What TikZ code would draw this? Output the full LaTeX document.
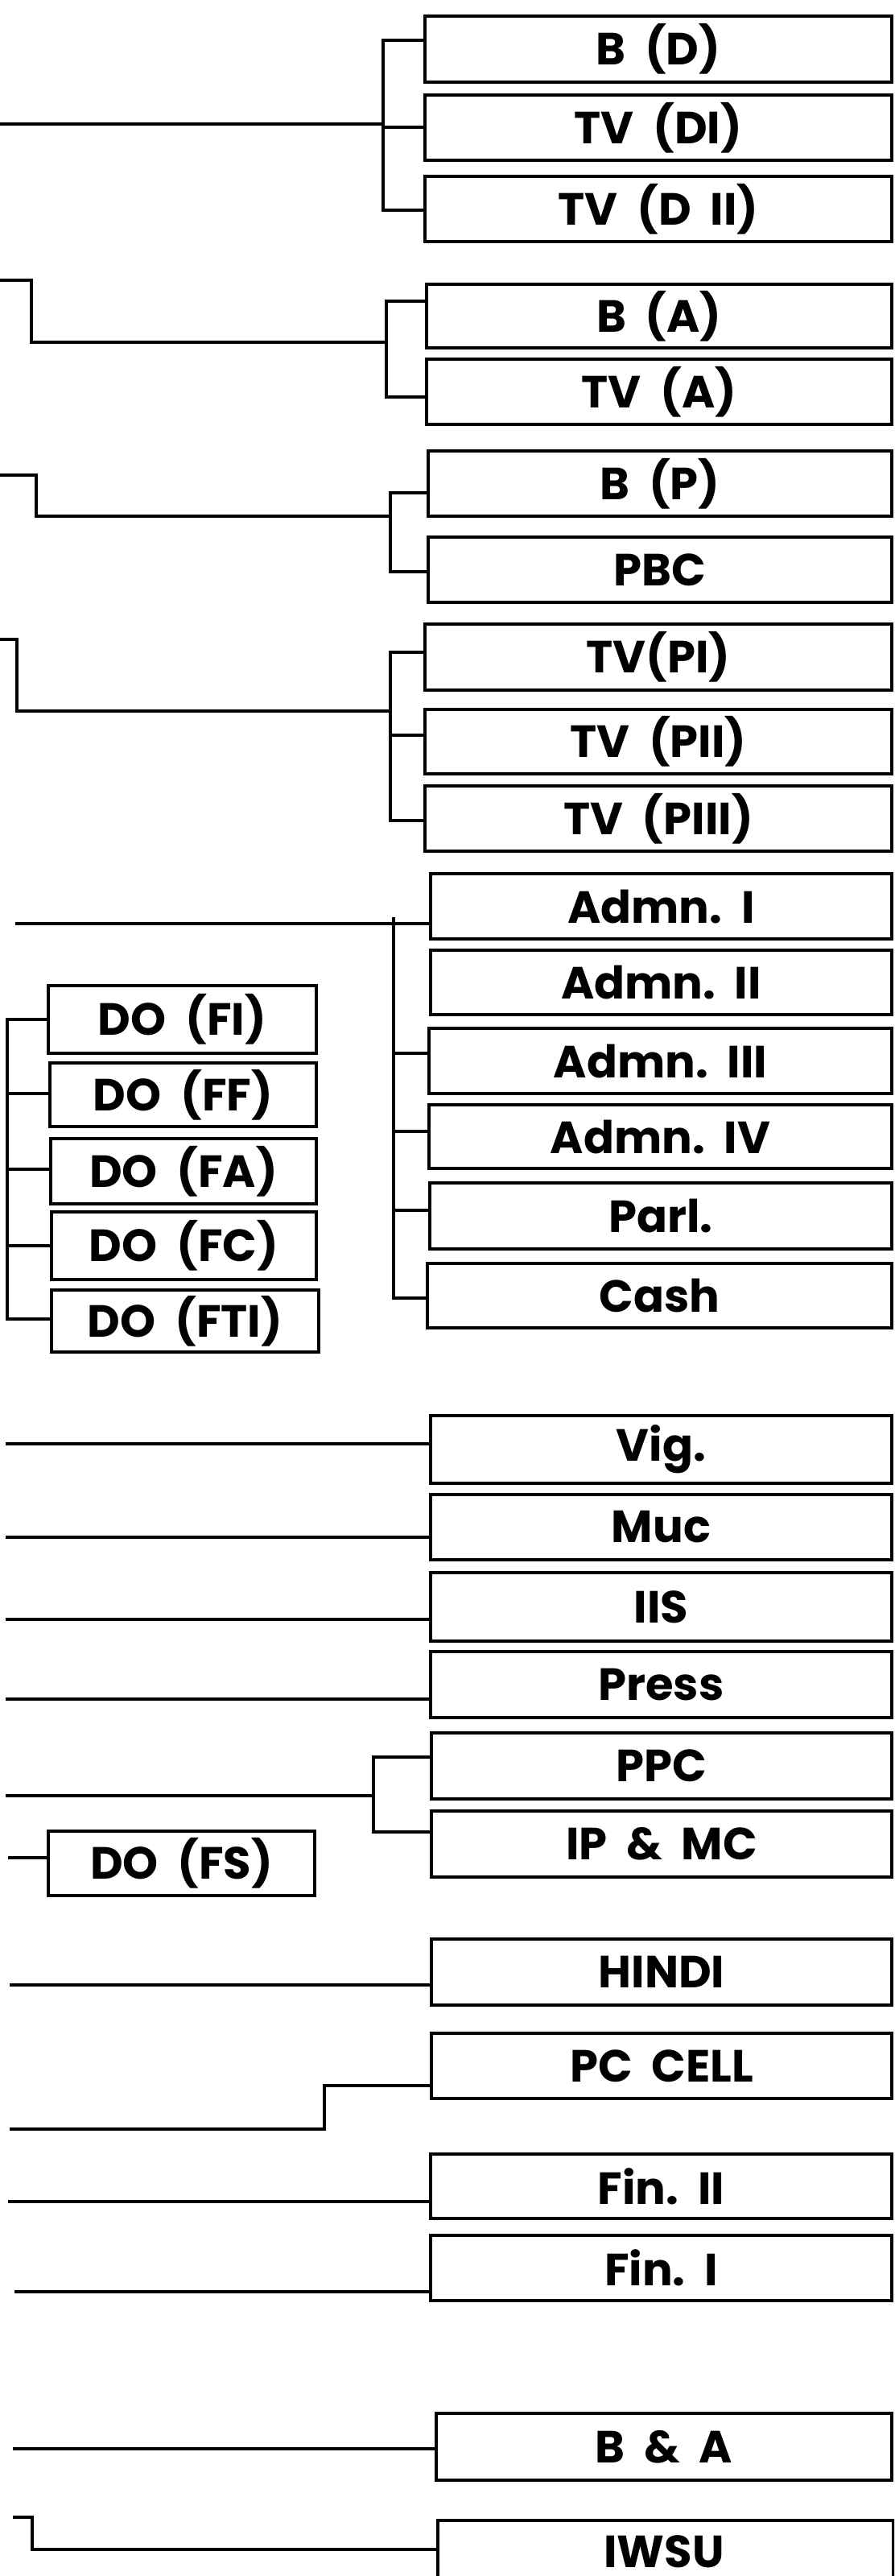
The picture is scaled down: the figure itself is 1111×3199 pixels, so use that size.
\documentclass[tikz,border=0pt]{standalone}
\usepackage{fontspec}
\setmainfont{Poppins}
\begin{document}
\begin{tikzpicture}[x=1pt,y=-1pt,
  txt/.style={font=\bfseries\fontsize{56}{56}\selectfont},
  box/.style={draw, line width=3.5pt, inner sep=0pt, txt},
  conn/.style={line width=3.5pt, line cap=rect}]
\useasboundingbox (0,0) rectangle (1111,3199);
\clip (0,0) rectangle (1111,3199);
\newcommand\rbox[5]{\node[box, minimum width={1108-#2}, minimum height={#4-#3}] (#1) at ({(#2+1108)/2},{(#3+#4)/2}) {#5};}
\newcommand\lbox[6]{\node[box, minimum width={#3-#2}, minimum height={#5-#4}] (#1) at ({(#2+#3)/2},{(#4+#5)/2}) {#6};}
% right column
\rbox{bd}{528}{20}{102}{B\ \ (D)}
\rbox{tvdi}{528}{118}{199}{TV\ \ (DI)}
\rbox{tvdii}{528}{219}{300}{TV\ \ (D\ \ II)}
\rbox{ba}{530}{353}{432}{B\ \ (A)}
\rbox{tva}{530}{446}{527}{TV\ \ (A)}
\rbox{bp}{532}{560}{641}{B\ \ (P)}
\rbox{pbc}{532}{667}{748}{PBC}
\rbox{tvpi}{528}{775}{857}{TV(PI)}
\rbox{tvpii}{528}{881}{961}{TV\ \ (PII)}
\rbox{tvpiii}{528}{976}{1057}{TV\ \ (PIII)}
\rbox{adm1}{535}{1085}{1166}{Admn.\ \ I}
\rbox{adm2}{535}{1180}{1260}{Admn.\ \ II}
\rbox{adm3}{533}{1277}{1358}{Admn.\ \ III}
\rbox{adm4}{533}{1372}{1451}{Admn.\ \ IV}
\rbox{parl}{534}{1469}{1551}{Parl.}
\rbox{cash}{531}{1569}{1649}{Cash}
\rbox{vig}{535}{1758}{1842}{Vig.}
\rbox{muc}{535}{1856}{1937}{Muc}
\rbox{iis}{535}{1953}{2038}{IIS}
\rbox{press}{535}{2051}{2133}{Press}
\rbox{ppc}{536}{2152}{2234}{PPC}
\rbox{ipmc}{536}{2249}{2331}{IP\ \ \&\ \ MC}
\rbox{hindi}{536}{2408}{2490}{HINDI}
\rbox{pccell}{536}{2525}{2606}{PC\ \ CELL}
\rbox{finii}{535}{2675}{2755}{Fin.\ \ II}
\rbox{fini}{535}{2776}{2857}{Fin.\ \ I}
\rbox{banda}{542}{2997}{3080}{B\ \ \&\ \ A}
\node[box, minimum width=566, minimum height=170, anchor=north west] (iwsu) at (542,3128) {};
\node[txt, inner sep=0pt, anchor=base] (iwsut) at (825,3188) {IWSU};
% left DO boxes
\lbox{dofi}{60}{393}{1224}{1308}{DO\ \ (FI)}
\lbox{doff}{62}{393}{1320}{1399}{DO\ \ (FF)}
\lbox{dofa}{63}{393}{1414}{1495}{DO\ \ (FA)}
\lbox{dofc}{64}{393}{1505}{1589}{DO\ \ (FC)}
\lbox{dofti}{64}{396}{1602}{1679}{DO\ \ (FTI)}
\lbox{dofs}{60}{391}{2274}{2354}{DO\ \ (FS)}
% group 1
\coordinate (s1) at (0,154); \coordinate (j1) at (476,154);
\coordinate (k1a) at (476,50); \coordinate (k1b) at (476,158); \coordinate (k1c) at (476,261);
\draw[conn] (s1) -- (j1);
\draw[conn] (k1a) -- (k1c);
\draw[conn] (k1a) -- (k1a -| bd.west);
\draw[conn] (k1b) -- (k1b -| tvdi.west);
\draw[conn] (k1c) -- (k1c -| tvdii.west);
% group 2
\coordinate (s2) at (0,348); \coordinate (s2a) at (39,348); \coordinate (s2b) at (39,425); \coordinate (j2) at (480,425);
\coordinate (k2a) at (480,374); \coordinate (k2b) at (480,493);
\draw[conn] (s2) -- (s2a) -- (s2b) -- (j2);
\draw[conn] (k2a) -- (k2b);
\draw[conn] (k2a) -- (k2a -| ba.west);
\draw[conn] (k2b) -- (k2b -| tva.west);
% group 3
\coordinate (s3) at (0,590); \coordinate (s3a) at (45,590); \coordinate (s3b) at (45,641); \coordinate (j3) at (485,641);
\coordinate (k3a) at (485,612); \coordinate (k3b) at (485,710);
\draw[conn] (s3) -- (s3a) -- (s3b) -- (j3);
\draw[conn] (k3a) -- (k3b);
\draw[conn] (k3a) -- (k3a -| bp.west);
\draw[conn] (k3b) -- (k3b -| pbc.west);
% group 4
\coordinate (s4) at (0,794); \coordinate (s4a) at (21,794); \coordinate (s4b) at (21,883); \coordinate (j4) at (485,883);
\coordinate (k4a) at (485,810); \coordinate (k4b) at (485,913); \coordinate (k4c) at (485,1019);
\draw[conn] (s4) -- (s4a) -- (s4b) -- (j4);
\draw[conn] (k4a) -- (k4c);
\draw[conn] (k4a) -- (k4a -| tvpi.west);
\draw[conn] (k4b) -- (k4b -| tvpii.west);
\draw[conn] (k4c) -- (k4c -| tvpiii.west);
% group 5 (Admn)
\coordinate (s5) at (21,1147);
\coordinate (k5a) at (489,1141); \coordinate (k5c) at (489,1308); \coordinate (k5d) at (489,1405);
\coordinate (k5e) at (489,1503); \coordinate (k5f) at (489,1612);
\draw[conn] (s5) -- (s5 -| adm1.west);
\draw[conn] (k5a) -- (k5f);
\draw[conn] (k5c) -- (k5c -| adm3.west);
\draw[conn] (k5d) -- (k5d -| adm4.west);
\draw[conn] (k5e) -- (k5e -| parl.west);
\draw[conn] (k5f) -- (k5f -| cash.west);
% left DO bracket
\coordinate (l1) at (9,1266); \coordinate (l2) at (9,1358); \coordinate (l3) at (9,1452);
\coordinate (l4) at (9,1547); \coordinate (l5) at (9,1638);
\draw[conn] (l1) -- (l5);
\draw[conn] (l1) -- (l1 -| dofi.west);
\draw[conn] (l2) -- (l2 -| doff.west);
\draw[conn] (l3) -- (l3 -| dofa.west);
\draw[conn] (l4) -- (l4 -| dofc.west);
\draw[conn] (l5) -- (l5 -| dofti.west);
% single lines
\coordinate (s6) at (9,1793); \draw[conn] (s6) -- (s6 -| vig.west);
\coordinate (s7) at (9,1909); \draw[conn] (s7) -- (s7 -| muc.west);
\coordinate (s8) at (9,2011); \draw[conn] (s8) -- (s8 -| iis.west);
\coordinate (s9) at (9,2110); \draw[conn] (s9) -- (s9 -| press.west);
% PPC group
\coordinate (s10) at (9,2230); \coordinate (j10) at (464,2230);
\coordinate (k10a) at (464,2182); \coordinate (k10b) at (464,2275);
\draw[conn] (s10) -- (j10);
\draw[conn] (k10a) -- (k10b);
\draw[conn] (k10a) -- (k10a -| ppc.west);
\draw[conn] (k10b) -- (k10b -| ipmc.west);
\coordinate (s11) at (12,2307); \draw[conn] (s11) -- (s11 -| dofs.west);
% lower lines
\coordinate (s12) at (14,2465); \draw[conn] (s12) -- (s12 -| hindi.west);
\coordinate (s13) at (14,2644); \coordinate (s13a) at (403,2644); \coordinate (s13b) at (403,2590);
\draw[conn] (s13) -- (s13a) -- (s13b) -- (s13b -| pccell.west);
\coordinate (s14) at (12,2734); \draw[conn] (s14) -- (s14 -| finii.west);
\coordinate (s15) at (20,2846); \draw[conn] (s15) -- (s15 -| fini.west);
\coordinate (s16) at (18,3041); \draw[conn] (s16) -- (s16 -| banda.west);
\coordinate (s17) at (18,3126); \coordinate (s17a) at (40,3126); \coordinate (s17b) at (40,3166);
\draw[conn] (s17) -- (s17a) -- (s17b) -- (s17b -| iwsu.west);
\end{tikzpicture}
\end{document}
